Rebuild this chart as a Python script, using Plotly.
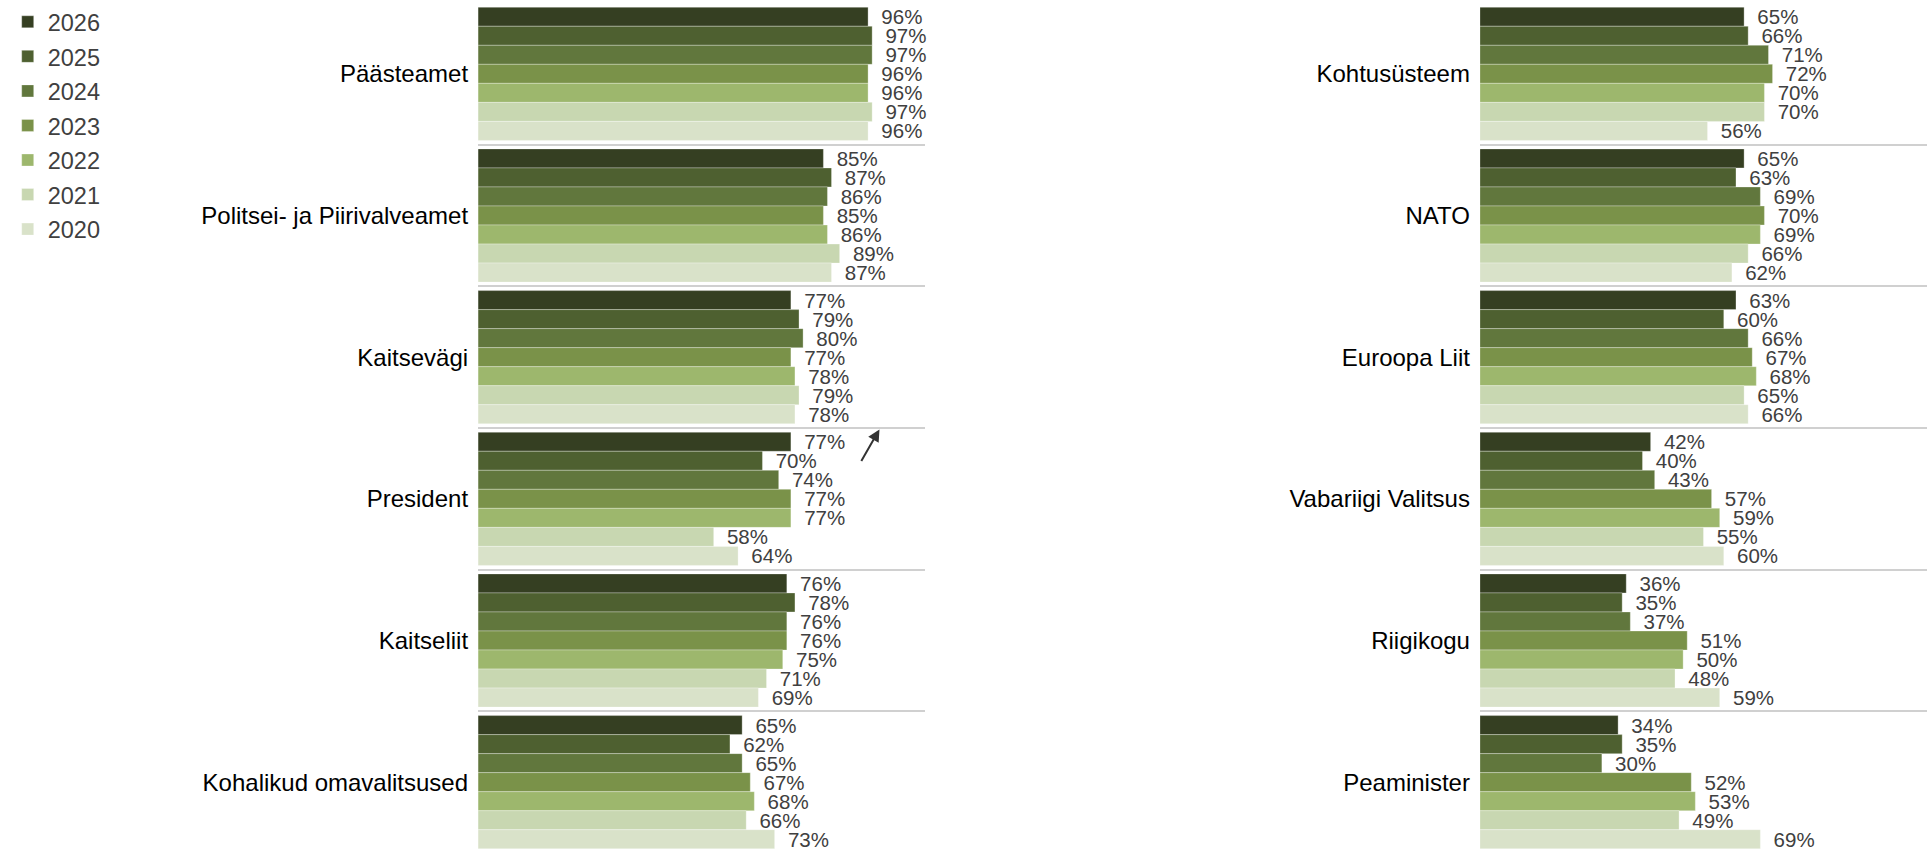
import plotly.graph_objects as go

years = ["2026", "2025", "2024", "2023", "2022", "2021", "2020"]
colors = ["#353f22", "#4e6030", "#61773d", "#7a9249", "#9db76d", "#c8d7b1", "#d9e2c9"]

left_cats = ["Päästeamet", "Politsei- ja Piirivalveamet", "Kaitsevägi",
             "President", "Kaitseliit", "Kohalikud omavalitsused"]
right_cats = ["Kohtusüsteem", "NATO", "Euroopa Liit",
              "Vabariigi Valitsus", "Riigikogu", "Peaminister"]

# values per year (2026 ... 2020), in category order
left_vals = {
    "2026": [96, 85, 77, 77, 76, 65],
    "2025": [97, 87, 79, 70, 78, 62],
    "2024": [97, 86, 80, 74, 76, 65],
    "2023": [96, 85, 77, 77, 76, 67],
    "2022": [96, 86, 78, 77, 75, 68],
    "2021": [97, 89, 79, 58, 71, 66],
    "2020": [96, 87, 78, 64, 69, 73],
}
right_vals = {
    "2026": [65, 65, 63, 42, 36, 34],
    "2025": [66, 63, 60, 40, 35, 35],
    "2024": [71, 69, 66, 43, 37, 30],
    "2023": [72, 70, 67, 57, 51, 52],
    "2022": [70, 69, 68, 59, 50, 53],
    "2021": [70, 66, 65, 55, 48, 49],
    "2020": [56, 62, 66, 60, 59, 69],
}

FONT = "Liberation Sans, Arial, sans-serif"

fig = go.Figure()
for yr, col in zip(years, colors):
    common = dict(
        orientation="h",
        marker=dict(color=col, line=dict(width=1, color="rgba(255,255,255,0.3)")),
        texttemplate="\u2002%{x}%",
        textposition="outside",
        constraintext="none",
        cliponaxis=False,
        textfont=dict(size=20.5, color="#404040", family=FONT),
        hovertemplate="%{y}<br>" + yr + ": %{x}%<extra></extra>",
        name=yr,
        legendgroup=yr,
    )
    fig.add_trace(go.Bar(x=left_vals[yr], y=left_cats, xaxis="x", yaxis="y",
                         showlegend=True, **common))
    fig.add_trace(go.Bar(x=right_vals[yr], y=right_cats, xaxis="x2", yaxis="y2",
                         showlegend=False, **common))

xax = dict(range=[0, 110], showgrid=False, zeroline=False, showticklabels=False,
           showline=False, fixedrange=True, automargin=False)
yax = dict(type="category", autorange="reversed", tickson="boundaries",
           showgrid=True, gridcolor="#d0d0d0", gridwidth=2, ticks="",
           showline=False, zeroline=False, ticklabelstandoff=9, automargin=False,
           tickfont=dict(size=24, color="#000000", family=FONT))

fig.update_layout(
    width=1927, height=853,
    margin=dict(l=0, r=0, t=3, b=0, autoexpand=False),
    paper_bgcolor="white", plot_bgcolor="white",
    barmode="group", bargap=0.06, bargroupgap=0,
    font=dict(family=FONT),
    xaxis=dict(domain=[0.2481, 0.4800], anchor="y", **xax),
    xaxis2=dict(domain=[0.7680, 1.0], anchor="y2", **xax),
    yaxis=dict(anchor="x", **yax),
    yaxis2=dict(anchor="x2", **yax),
    legend=dict(x=0.004, y=1.0035, xanchor="left", yanchor="top",
                font=dict(size=23.5, color="#404040", family=FONT),
                tracegroupgap=1, bgcolor="rgba(0,0,0,0)"),
    annotations=[dict(x=98.8, y=2.51, xref="x", yref="y", text="",
                      showarrow=True, ax=-19, ay=33, arrowhead=2,
                      arrowsize=1.2, arrowwidth=2, arrowcolor="#333333")],
)

fig.write_html("out.html", config={"displayModeBar": False},
               post_script="document.body.style.margin='0';")
